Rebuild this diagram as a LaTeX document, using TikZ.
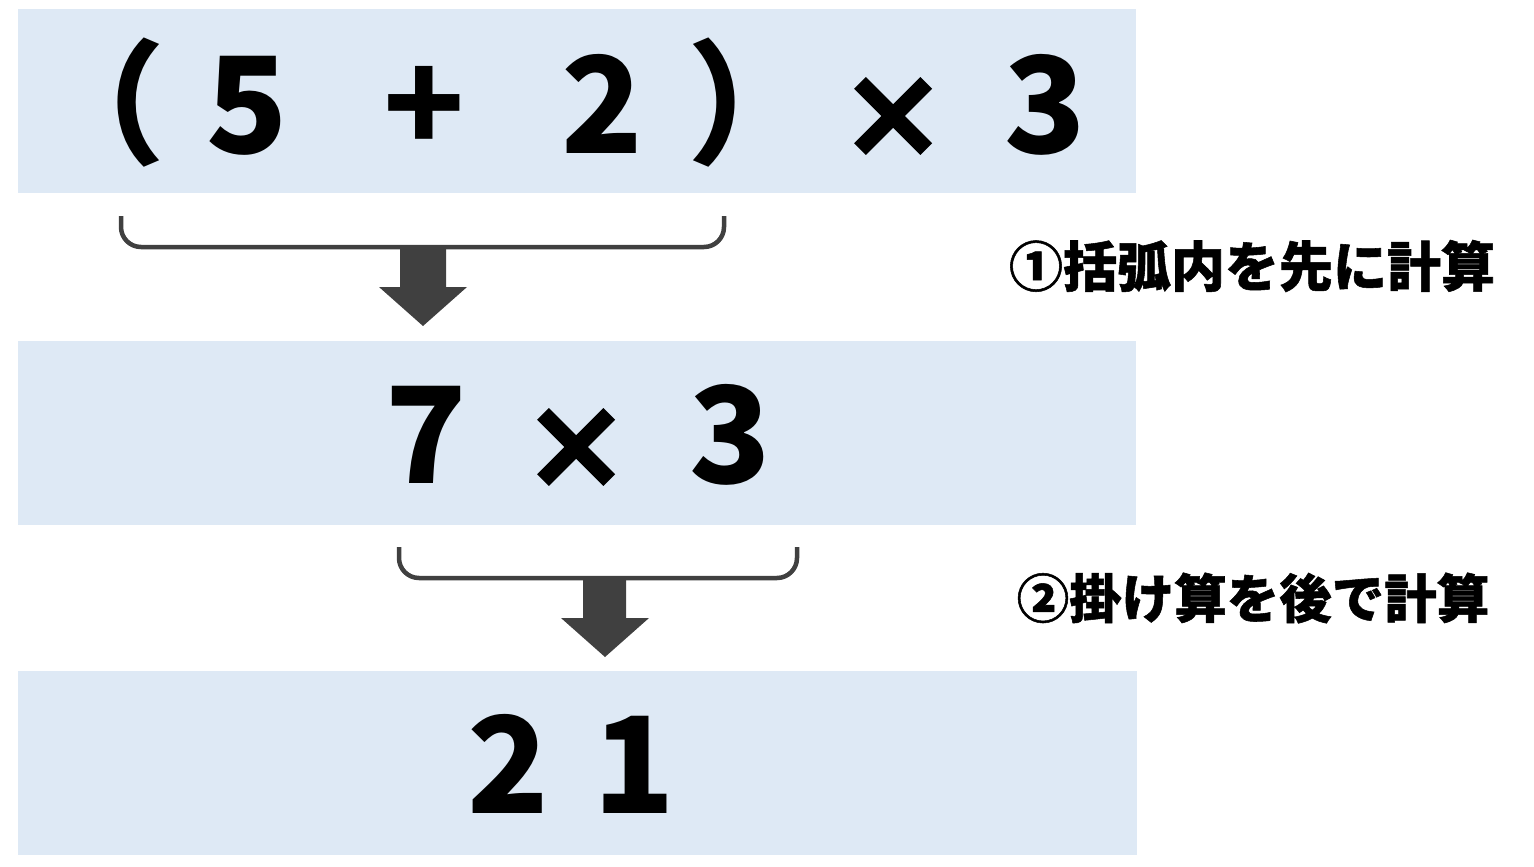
\documentclass[tikz,border=0pt]{standalone}
\usepackage{fontspec}
\newfontfamily\jp{Noto Sans CJK JP}
\newfontfamily\jpheavy{Noto Sans CJK JP}[BoldFeatures={FakeBold=3}]
\newfontfamily\jpnote{Noto Sans CJK JP}[BoldFeatures={FakeBold=1}]
\definecolor{boxblue}{HTML}{DEE9F5}
\definecolor{darkgray}{HTML}{404040}
\begin{document}
\begin{tikzpicture}[x=1pt,y=-1pt,
  panel/.style={fill=boxblue,draw=none},
  big/.style={inner sep=0pt,anchor=base,font=\jp\bfseries\fontsize{134}{134}\selectfont},
  times/.style={inner sep=0pt,anchor=base,font=\jpheavy\bfseries\fontsize{110}{110}\selectfont},
  note/.style={inner sep=0pt,anchor=center,font=\jpnote\bfseries\fontsize{54}{54}\selectfont},
  bracket/.style={draw=darkgray,line width=4.5pt,rounded corners=20pt},
  blockarrow/.style={fill=darkgray,draw=none}]
\useasboundingbox (0,0) rectangle (1534,867);
\fill[white] (0,0) rectangle (1534,867);
% panels
\path[panel] (18,9) rectangle (1136,193);
\path[panel] (18,341) rectangle (1136,525);
\path[panel] (18,671) rectangle (1137,855);
% row 1
\node[big] (lp) at (98,153) {（};
\node[big] (n5) at (247,153) {5};
\node[big] (plus) at (424,153) {+};
\node[big] (n2) at (602,153) {2};
\node[big] (rp) at (754,153) {）};
\node[times] (t1) at (893,158) {×};
\node[big] (n3) at (1045,153) {3};
% row 2
\node[big] (n7) at (426,483) {7};
\node[times] (t2) at (576,489) {×};
\node[big] (m3) at (730,483) {3};
% row 3
\node[big] (r2) at (508,813) {2};
\node[big] (r1) at (634,813) {1};
% notes
\node[note] (note1) at (1252,266) {①括弧内を先に計算};
\node[note,font=\jpnote\bfseries\fontsize{52.5}{52.5}\selectfont] (note2) at (1253,598) {②掛け算を後で計算};
% brackets
\coordinate (b1l) at (121,216); \coordinate (b1r) at (724,216);
\draw[bracket] (b1l) -- (121,247) -- (724,247) -- (b1r);
\coordinate (b2l) at (399,547); \coordinate (b2r) at (797,547);
\draw[bracket] (b2l) -- (399,578) -- (797,578) -- (b2r);
% block arrows
\fill[blockarrow] (400,247) -- (446,247) -- (446,287) -- (467,287) -- (423,326) -- (379,287) -- (400,287) -- cycle;
\fill[blockarrow] (583,578) -- (626,578) -- (626,618) -- (649,618) -- (605,657) -- (561,618) -- (583,618) -- cycle;
\end{tikzpicture}
\end{document}
